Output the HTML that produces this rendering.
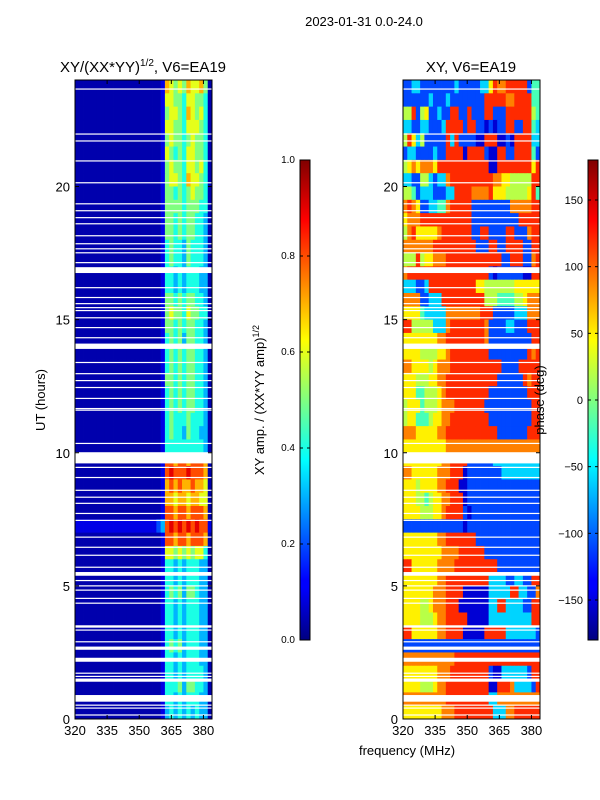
<!DOCTYPE html>
<html><head><meta charset="utf-8">
<style>
body{margin:0;background:#fff;}
svg{display:block;font-family:"Liberation Sans","DejaVu Sans",sans-serif;}
</style></head>
<body>
<svg id="fig" width="600" height="800" viewBox="0 0 600 800" xmlns="http://www.w3.org/2000/svg">
<defs>
<linearGradient id="jet" x1="0" y1="1" x2="0" y2="0">
<stop offset="0" stop-color="#000080"/><stop offset="0.11" stop-color="#0000ff"/>
<stop offset="0.125" stop-color="#0000ff"/><stop offset="0.375" stop-color="#00ffff"/>
<stop offset="0.5" stop-color="#80ff80"/><stop offset="0.625" stop-color="#ffff00"/>
<stop offset="0.875" stop-color="#ff0000"/><stop offset="1" stop-color="#800000"/>
</linearGradient>
</defs>
<text x="364" y="26" font-size="13" text-anchor="middle">2023-01-31 0.0-24.0</text>
<text x="143" y="72" font-size="15" text-anchor="middle">XY/(XX*YY)<tspan font-size="10" dy="-6">1/2</tspan><tspan dy="6">, V6=EA19</tspan></text>
<text x="471" y="72" font-size="15" text-anchor="middle">XY, V6=EA19</text>
<text transform="translate(45,400) rotate(-90)" font-size="13" text-anchor="middle">UT (hours)</text>
<text x="407" y="755" font-size="13" text-anchor="middle">frequency (MHz)</text>
<text transform="translate(264,400) rotate(-90)" font-size="13" text-anchor="middle">XY amp. / (XX*YY amp)<tspan font-size="9" dy="-5">1/2</tspan></text>
<g id="amp"></g>
<g id="phs"></g>
<text transform="translate(544,400) rotate(-90)" font-size="13" text-anchor="middle">phase (deg)</text>
<g id="axes"></g>
<rect x="300" y="160" width="10" height="480" fill="url(#jet)" stroke="#000" stroke-width="1"/>
<rect x="588" y="160" width="10" height="480" fill="url(#jet)" stroke="#000" stroke-width="1"/>
<g id="cb"></g>
</svg>
<script>
const freqMin = 320, freqMax = 384, hourMin = 0, hourMax = 24;
const freqTicks = [320, 335, 350, 365, 380];
const hourTicks = [0, 5, 10, 15, 20];
const ampTicks = [0.0, 0.2, 0.4, 0.6, 0.8, 1.0];
const phaseTicks = [-150, -100, -50, 0, 50, 100, 150];
const ampLevels = [0.045, 0.1, 0.2, 0.3, 0.4, 0.5, 0.6, 0.7, 0.8, 0.9];
const phaseLevels = [-175, -150, -110, -60, -20, 20, 50, 90, 120, 170];
// rows listed top (23.5-24h) to bottom (0-0.5h); 32 channels of 2 MHz
const ampRows = [
"00000000000000000000"+"1"+"7656576675"+"0",
"00000000000000000000"+"1"+"6655466554"+"0",
"00000000000000000000"+"1"+"5665476564"+"0",
"00000000000000000000"+"1"+"6655466654"+"0",
"00000000000000000000"+"1"+"5655456554"+"0",
"00000000000000000000"+"1"+"6545466554"+"0",
"00000000000000000000"+"1"+"5655466564"+"0",
"00000000000000000000"+"1"+"5665476654"+"0",
"00000000000000000000"+"1"+"5545456554"+"0",
"00000000000000000000"+"1"+"5555455544"+"0",
"00000000000000000000"+"1"+"5545455443"+"0",
"00000000000000000000"+"1"+"5545455443"+"0",
"00000000000000000000"+"1"+"4544354443"+"0",
"00000000000000000000"+"1"+"4544354443"+"0",
"00000000000000000000"+"1"+"4434344433"+"0",
"00000000000000000000"+"1"+"4434344433"+"0",
"00000000000000000000"+"1"+"5545455443"+"0",
"00000000000000000000"+"1"+"5655465544"+"0",
"00000000000000000000"+"1"+"5545455443"+"0",
"00000000000000000000"+"1"+"4545355443"+"0",
"00000000000000000000"+"1"+"4545455443"+"0",
"00000000000000000000"+"1"+"4545455443"+"0",
"00000000000000000000"+"1"+"5545455443"+"0",
"00000000000000000000"+"1"+"4545455443"+"0",
"00000000000000000000"+"1"+"4545455443"+"0",
"00000000000000000000"+"1"+"4544454443"+"0",
"00000000000000000000"+"1"+"4544354433"+"0",
"00000000000000000000"+"1"+"4444444443"+"0",
"00000000000000000000"+"1"+"8878878887"+"0",
"00000000000000000000"+"1"+"8988898887"+"0",
"00000000000000000000"+"1"+"7878778776"+"0",
"00000000000000000000"+"1"+"7767767766"+"0",
"00000000000000000000"+"1"+"8878878887"+"0",
"11111111111111111112"+"3"+"8989898988"+"1",
"00000000000000000000"+"1"+"8878878887"+"0",
"00000000000000000000"+"1"+"6656565664"+"0",
"00000000000000000000"+"1"+"4434344433"+"0",
"00000000000000000000"+"1"+"4434344433"+"0",
"00000000000000000000"+"1"+"4545355433"+"0",
"00000000000000000000"+"1"+"4434344433"+"0",
"00000000000000000000"+"1"+"4434344433"+"0",
"00000000000000000000"+"1"+"4434344433"+"0",
"00000000000000000000"+"1"+"4545344433"+"0",
"00000000000000000000"+"1"+"4434344433"+"0",
"00000000000000000000"+"1"+"4434344443"+"0",
"00000000000000000000"+"1"+"4445355443"+"0",
"00000000000000000000"+"1"+"4434344433"+"0",
"00000000000000000000"+"1"+"3434343433"+"0"
];
const phaseRows = [
"22332222"+"2222322"+"222336"+"87788888244",
"22222232"+"2232222"+"222288"+"88877888844",
"55825622"+"3228822"+"822288"+"22288888854",
"33223322"+"2388882"+"882212"+"12288228843",
"58635222"+"2283822"+"221188"+"81121888833",
"23322223"+"2288881"+"888821"+"18822888842",
"56767776"+"8888888"+"888881"+"18888888868",
"33225532"+"3378888"+"888888"+"77665555588",
"55423332"+"2233888"+"877778"+"66655555684",
"78762233"+"4478888"+"822222"+"22227777788",
"67778888"+"8888888"+"822222"+"22222288888",
"57866666"+"7888888"+"822882"+"22288222788",
"77777778"+"8888888"+"882228"+"82288882288",
"55585667"+"7788888"+"888888"+"88228882278",
"78888888"+"8888888"+"888882"+"12222221188",
"33322388"+"8888888"+"886655"+"55555666666",
"77772233"+"3888888"+"888855"+"54444556777",
"66664333"+"3377777"+"777888"+"22222333777",
"88555553"+"3378888"+"888872"+"22233222888",
"66666666"+"7788888"+"888872"+"22222222288",
"66665555"+"6678888"+"888882"+"22222222878",
"77666656"+"7778888"+"888888"+"88222288888",
"66655566"+"7788888"+"888888"+"82222228788",
"66644555"+"6788888"+"888882"+"22222222888",
"56664555"+"6777888"+"888822"+"22222222288",
"56644456"+"6778888"+"888882"+"22222222288",
"77766666"+"7788888"+"888888"+"82222222888",
"66666666"+"6677777"+"777777"+"77777777777",
"66666666"+"6778888"+"222222"+"33333333333",
"77666666"+"7778881"+"222222"+"22333333333",
"66656666"+"7788811"+"222222"+"22222222222",
"66655456"+"6778881"+"222222"+"22222222222",
"66665556"+"6788882"+"122222"+"22222222222",
"22222222"+"2222221"+"222222"+"22222222222",
"66666666"+"7788888"+"882222"+"22222222222",
"66666666"+"6777788"+"888822"+"22222222222",
"88666666"+"7777888"+"888888"+"82222222222",
"66666666"+"7788888"+"888883"+"33322332288",
"66666667"+"7788881"+"111113"+"33338833227",
"66665567"+"7788811"+"111113"+"38833332288",
"66665556"+"7788888"+"111113"+"33333333388",
"88666666"+"7788881"+"111188"+"88833333332",
"22222222"+"2222222"+"222222"+"22222222222",
"77777777"+"7777888"+"888888"+"88888888888",
"66666666"+"7778888"+"888882"+"11333333288",
"66665556"+"7788888"+"888881"+"18887333328",
"77777777"+"7788888"+"888883"+"37777777777",
"66666666"+"6777888"+"888888"+"33377888888"
];
// flagged (blank) time ranges: [startHour, endHour]
const flagRanges = [[16.75,16.97],[13.9,14.1],[9.6,10.02],[5.38,5.52],[3.43,3.52],[2.6,2.72],[2.15,2.3],[1.4,1.52],[0.65,0.9]];
// thin flagged lines (hour)
const flagLines = [23.66,21.97,21.71,20.96,20.14,19.35,19.09,18.83,18.6,18.15,17.85,17.66,17.51,17.14,16.2,15.83,15.6,15.45,15.34,15.07,14.7,14.32,13.39,12.97,12.71,12.45,12.04,11.66,11.6,10.35,9.45,9.07,8.59,8.33,8.1,7.72,7.46,6.83,6.45,6.15,5.7,5.2,5.0,4.84,4.53,4.35,3.34,2.9,1.72,1.6,0.52,0.41,0.15];

const NS="http://www.w3.org/2000/svg";
const panels=[{x0:75,x1:212,g:"amp",rows:ampRows,kind:"amp",name:"amp"},{x0:403,x1:540,g:"phs",rows:phaseRows,kind:"phase",name:"phase"}];
const y0=80,y1=719;
function yScale(h){return y1-(h-hourMin)/(hourMax-hourMin)*(y1-y0);}
function jet(v){v=Math.max(0,Math.min(1,v));const c=t=>Math.round(255*Math.max(0,Math.min(1,t)));
return `rgb(${c(Math.min(4*v-1.5,-4*v+4.5))},${c(Math.min(4*v-0.5,-4*v+3.5))},${c(Math.min(4*v+0.5,-4*v+2.5))})`;}
function mk(tag,attrs,parent){const e=document.createElementNS(NS,tag);for(const k in attrs)e.setAttribute(k,attrs[k]);parent.appendChild(e);return e;}
const axesG=document.getElementById("axes");
panels.forEach(p=>{
  const xScale=f=>p.x0+(f-freqMin)/(freqMax-freqMin)*(p.x1-p.x0);
  const g=document.getElementById(p.g);
  const nR=p.rows.length, nC=p.rows[0].length;
  const dh=(hourMax-hourMin)/nR, df=(freqMax-freqMin)/nC;
  p.rows.forEach((row,ri)=>{
    const hTop=hourMax-ri*dh, hBot=hTop-dh;
    for(let ci=0;ci<nC;ci++){
      const d=+row[ci];
      const v=p.kind==="amp"?ampLevels[d]:(phaseLevels[d]+180)/360;
      const xa=xScale(freqMin+ci*df), xb=xScale(freqMin+(ci+1)*df);
      const r=mk("rect",{x:xa.toFixed(2),y:yScale(hTop).toFixed(2),width:(xb-xa+0.4).toFixed(2),height:(yScale(hBot)-yScale(hTop)+0.4).toFixed(2),fill:jet(v)},g);
      
      
    }
  });
  flagRanges.forEach(fr=>{
    const r=mk("rect",{x:p.x0,y:yScale(fr[1]),width:p.x1-p.x0,height:yScale(fr[0])-yScale(fr[1]),fill:"#fff"},g);
    
    
  });
  flagLines.forEach(h=>{
    const r=mk("rect",{x:p.x0,y:yScale(h)-0.6,width:p.x1-p.x0,height:1.2,fill:"#fff"},g);
    
    
  });
  const fr=mk("rect",{x:p.x0,y:y0,width:p.x1-p.x0,height:y1-y0,fill:"none",stroke:"#000","stroke-width":1},axesG);
  
  
  freqTicks.forEach(f=>{
    const x=xScale(f);
    mk("line",{x1:x,x2:x,y1:y1,y2:y1-4,stroke:"#000"},axesG);
    mk("line",{x1:x,x2:x,y1:y0,y2:y0+4,stroke:"#000"},axesG);
    const t=mk("text",{x:x,y:y1+16,"font-size":13,"text-anchor":"middle"},axesG);
    t.textContent=f;
    
    
  });
  hourTicks.forEach(h=>{
    const y=yScale(h);
    mk("line",{x1:p.x0,x2:p.x0+4,y1:y,y2:y,stroke:"#000"},axesG);
    mk("line",{x1:p.x1,x2:p.x1-4,y1:y,y2:y,stroke:"#000"},axesG);
    const t=mk("text",{x:p.x0-5,y:y+5,"font-size":13,"text-anchor":"end"},axesG);
    t.textContent=h;
    
    
  });
});
const cb=document.getElementById("cb");
ampTicks.forEach(v=>{
  const y=640-v*480;
  mk("line",{x1:300,x2:303,y1:y,y2:y,stroke:"#000"},cb);
  mk("line",{x1:310,x2:307,y1:y,y2:y,stroke:"#000"},cb);
  const t=mk("text",{x:295,y:y+3,"font-size":10,"text-anchor":"end"},cb);
  t.textContent=v.toFixed(1);
  
  
});
phaseTicks.forEach(v=>{
  const y=640-(v+180)/360*480;
  mk("line",{x1:588,x2:591,y1:y,y2:y,stroke:"#000"},cb);
  mk("line",{x1:598,x2:595,y1:y,y2:y,stroke:"#000"},cb);
  const t=mk("text",{x:583,y:y+4,"font-size":11,"text-anchor":"end"},cb);
  t.textContent=v<0?"\u2212"+(-v):v;
  
  
});
</script>
</body></html>
